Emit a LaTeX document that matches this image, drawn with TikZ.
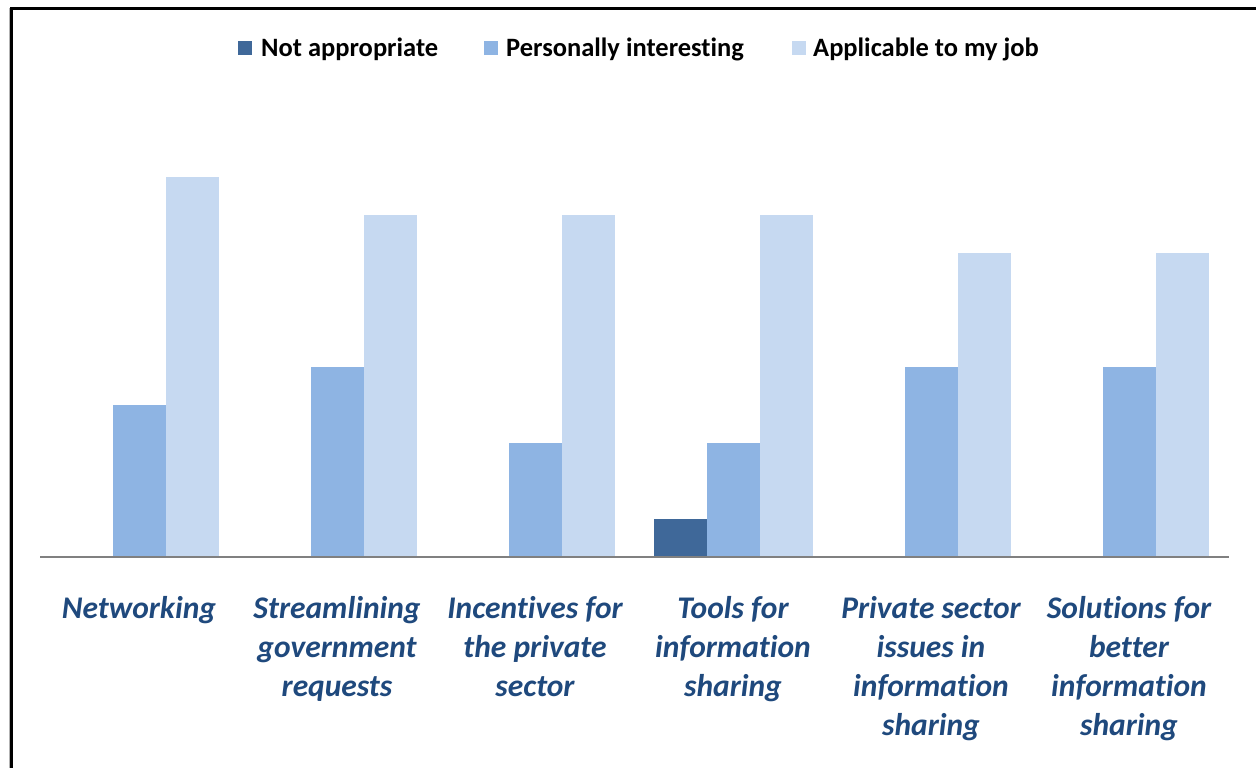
\documentclass[tikz,border=0pt]{standalone}
\usepackage{fontspec}
\setmainfont{Carlito}[Ligatures=NoCommon]
\usetikzlibrary{calc}
\definecolor{notapp}{HTML}{3F6899}
\definecolor{persint}{HTML}{8EB4E3}
\definecolor{appjob}{HTML}{C6D9F1}
\definecolor{labblue}{HTML}{1F497D}
\def\catlabel(#1)(#2)#3{\node[catlab] (#1) at (#2, 596) {#3};}
\def\drawbar[#1](#2)(#3){\fill[#1] (#2, 557) rectangle ($(#2, 557)+(53, -38*#3)$);}

\begin{document}
\begin{tikzpicture}[x=1pt, y=-1pt,
    catlab/.style={anchor=north, align=center, text=labblue, inner sep=0,
      font=\fontsize{31.5}{39}\selectfont\bfseries\itshape},
    legtext/.style={anchor=west, inner sep=0, font=\fontsize{26.5}{30}\selectfont\bfseries}]
		%%%%% START %%%%%
		\useasboundingbox (0, 0) rectangle (1256, 768);
		\fill[white] (0, 0) rectangle (1256, 768);
		
		% frame
		\draw[gray!60, line width=1] (9.5, 768) -- (9.5, 8);
		\draw[line width=3] (11, 768) -- (11, 9) -- (1256, 9);
		
		% legend
		\fill[notapp] (238, 41) rectangle (252, 55);
		\node[legtext] (lna) at (261, 49) {Not appropriate};
		\fill[persint] (484, 41) rectangle (498, 55);
		\node[legtext] (lpi) at (506, 49) {Personally interesting};
		\fill[appjob] (792, 41) rectangle (806, 55);
		\node[legtext] (laj) at (813, 49) {Applicable to my job};
		
		% bars
		\foreach \k/\vna/\vpi/\vaj in {0/0/4/10, 1/0/5/9, 2/0/3/9, 3/1/3/9, 4/0/5/8, 5/0/5/8} {
			\pgfmathsetmacro{\xl}{60+198*\k}
			\drawbar[notapp](\xl)(\vna)
			\drawbar[persint](\xl+53)(\vpi)
			\drawbar[appjob](\xl+106)(\vaj)
		}
		
		% axis
		\draw[gray, line width=2] (40, 557) -- (1229, 557);
		
		% categories
		\catlabel(c1)(139){Networking}
		\catlabel(c2)(337){Streamlining\\government\\requests}
		\catlabel(c3)(535){Incentives for\\the private\\sector}
		\catlabel(c4)(733){Tools for\\information\\sharing}
		\catlabel(c5)(931){Private sector\\issues in\\information\\sharing}
		\catlabel(c6)(1129){Solutions for\\better\\information\\sharing}
		%%%%% END %%%%%
\end{tikzpicture}
\end{document}
